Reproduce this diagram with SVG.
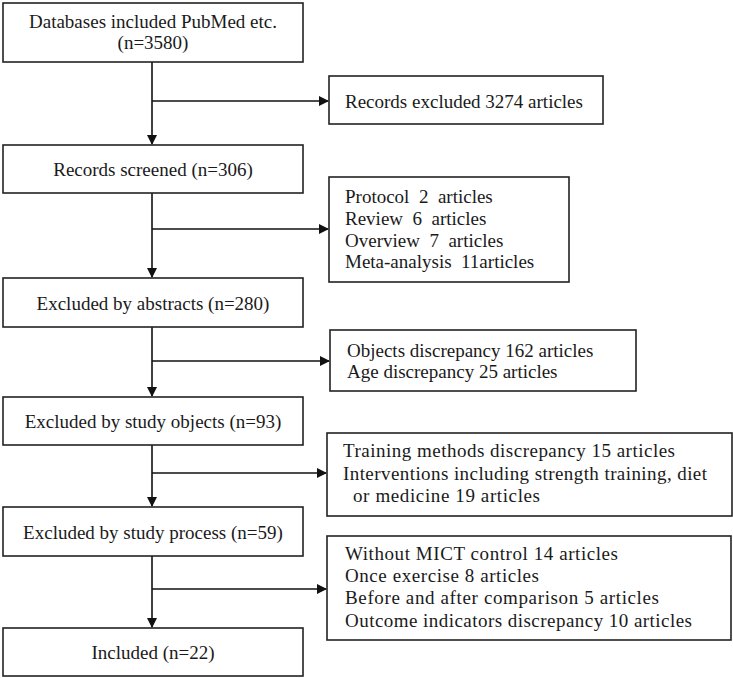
<svg xmlns="http://www.w3.org/2000/svg" width="733" height="678" viewBox="0 0 733 678">
<style>
rect{fill:#fff;stroke:#222;stroke-width:1.6}
text{font-family:"Liberation Serif","Times New Roman",serif;font-size:19px;fill:#1a1a1a}
.c{text-anchor:middle}
.ln{stroke:#111;stroke-width:1.6;fill:none}
</style>
<defs>
<marker id="ah" markerWidth="10" markerHeight="10" refX="9" refY="5" orient="auto" markerUnits="userSpaceOnUse" viewBox="0 0 10 10">
<path d="M0,0 L10,5 L0,10 Z" fill="#111"/>
</marker>
</defs>
<rect x="0" y="0" width="733" height="678" style="fill:#fff;stroke:none"/>
<g id="connectors">
<path class="ln" d="M152,62 V144" marker-end="url(#ah)"/>
<path class="ln" d="M152,101 H328" marker-end="url(#ah)"/>
<path class="ln" d="M152,193 V277" marker-end="url(#ah)"/>
<path class="ln" d="M152,229 H328" marker-end="url(#ah)"/>
<path class="ln" d="M152,327 V396" marker-end="url(#ah)"/>
<path class="ln" d="M152,361 H329" marker-end="url(#ah)"/>
<path class="ln" d="M152,445 V506" marker-end="url(#ah)"/>
<path class="ln" d="M152,473 H326" marker-end="url(#ah)"/>
<path class="ln" d="M152,556 V627" marker-end="url(#ah)"/>
<path class="ln" d="M152,589 H326" marker-end="url(#ah)"/>
</g>
<g id="n1"><rect x="3" y="3" width="300" height="59"/>
<text class="c" x="153" y="28">Databases included PubMed etc.</text>
<text class="c" x="153" y="49">(n=3580)</text></g>
<g id="n2"><rect x="3" y="145" width="300" height="48"/>
<text class="c" x="153" y="176">Records screened (n=306)</text></g>
<g id="n3"><rect x="3" y="278" width="300" height="49"/>
<text class="c" x="153" y="310">Excluded by abstracts (n=280)</text></g>
<g id="n4"><rect x="3" y="397" width="300" height="48"/>
<text class="c" x="153" y="428">Excluded by study objects (n=93)</text></g>
<g id="n5"><rect x="3" y="507" width="300" height="49"/>
<text class="c" x="153" y="539">Excluded by study process (n=59)</text></g>
<g id="n6"><rect x="3" y="628" width="300" height="48"/>
<text class="c" x="153" y="659">Included (n=22)</text></g>
<g id="e1"><rect x="329" y="76" width="274" height="48"/>
<text x="345" y="108">Records excluded 3274 articles</text></g>
<g id="e2"><rect x="329" y="177" width="240" height="105"/>
<text x="345" y="203" xml:space="preserve">Protocol  2  articles</text>
<text x="345" y="225" xml:space="preserve">Review  6  articles</text>
<text x="345" y="247" xml:space="preserve">Overview  7  articles</text>
<text x="345" y="268" xml:space="preserve">Meta-analysis  11articles</text></g>
<g id="e3"><rect x="330" y="330" width="306" height="61"/>
<text x="347" y="357">Objects discrepancy 162 articles</text>
<text x="347" y="378">Age discrepancy 25 articles</text></g>
<g id="e4"><rect x="327" y="433" width="405" height="83"/>
<text x="343" y="457" textLength="332" lengthAdjust="spacing">Training methods discrepancy 15 articles</text>
<text x="343" y="480" textLength="364" lengthAdjust="spacing">Interventions including strength training, diet</text>
<text x="353" y="502" textLength="187" lengthAdjust="spacing">or medicine 19 articles</text></g>
<g id="e5"><rect x="327" y="536" width="404" height="104"/>
<text x="345" y="560" textLength="273" lengthAdjust="spacing">Without MICT control 14 articles</text>
<text x="345" y="582" textLength="194" lengthAdjust="spacing">Once exercise 8 articles</text>
<text x="345" y="604" textLength="314" lengthAdjust="spacing">Before and after comparison 5 articles</text>
<text x="345" y="627" textLength="347" lengthAdjust="spacing">Outcome indicators discrepancy 10 articles</text></g>
</svg>
